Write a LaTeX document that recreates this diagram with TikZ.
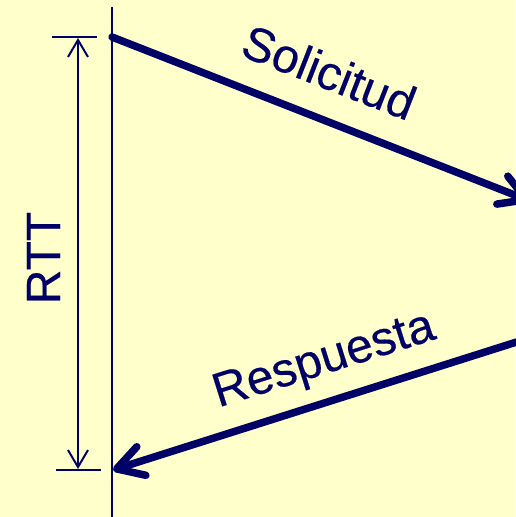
\documentclass[tikz,border=0pt]{standalone}
\usepackage{fontspec}
\setmainfont{Liberation Sans}
\usetikzlibrary{arrows.meta}
\definecolor{bg}{HTML}{FFFFCC}
\definecolor{ink}{HTML}{000066}
\tikzset{
  thin line/.style={draw=ink, line width=2.2pt},
  msg/.style={draw=ink, line width=7.5pt, line cap=round, -{Straight Barb[length=26pt,width=30pt,round]}},
  dim/.style={draw=ink, line width=2pt, {Straight Barb[length=17pt,width=20pt]}-{Straight Barb[length=17pt,width=20pt]}},
  lbl/.style={text=ink, font=\fontsize{48}{50}\selectfont\addfontfeature{FakeBold=0.4}, inner sep=0pt, anchor=base}
}
\begin{document}
\begin{tikzpicture}[x=1pt,y=-1pt]
\useasboundingbox (0,0) rectangle (515,517);
\fill[bg] (0,0) rectangle (515,517);
% coordinates
\coordinate (tltop) at (112,7);
\coordinate (tlbot) at (112,520);
\coordinate (req0) at (112,37);
\coordinate (req1) at (530,201);
\coordinate (res0) at (545,333);
\coordinate (res1) at (113,470);
\coordinate (dimtop) at (78,38);
\coordinate (dimbot) at (78,469);
\coordinate (tickTa) at (52,37);
\coordinate (tickTb) at (97,37);
\coordinate (tickBa) at (56,470);
\coordinate (tickBb) at (101,470);
% timeline
\draw[thin line] (tltop) -- (tlbot);
% ticks and dimension
\draw[thin line] (tickTa) -- (tickTb);
\draw[thin line] (tickBa) -- (tickBb);
\draw[dim] (dimtop) -- (dimbot);
% messages
\draw[msg] (req0) -- (req1);
\draw[msg] (res0) -- (res1);
% labels
\node[lbl, rotate=-21.4] (sol) at (323,88) {Solicitud};
\node[lbl, rotate=17.5] (resp) at (328,373) {Respuesta};
\node[lbl, rotate=90] (rtt) at (60,258) {RTT};
\end{tikzpicture}
\end{document}
